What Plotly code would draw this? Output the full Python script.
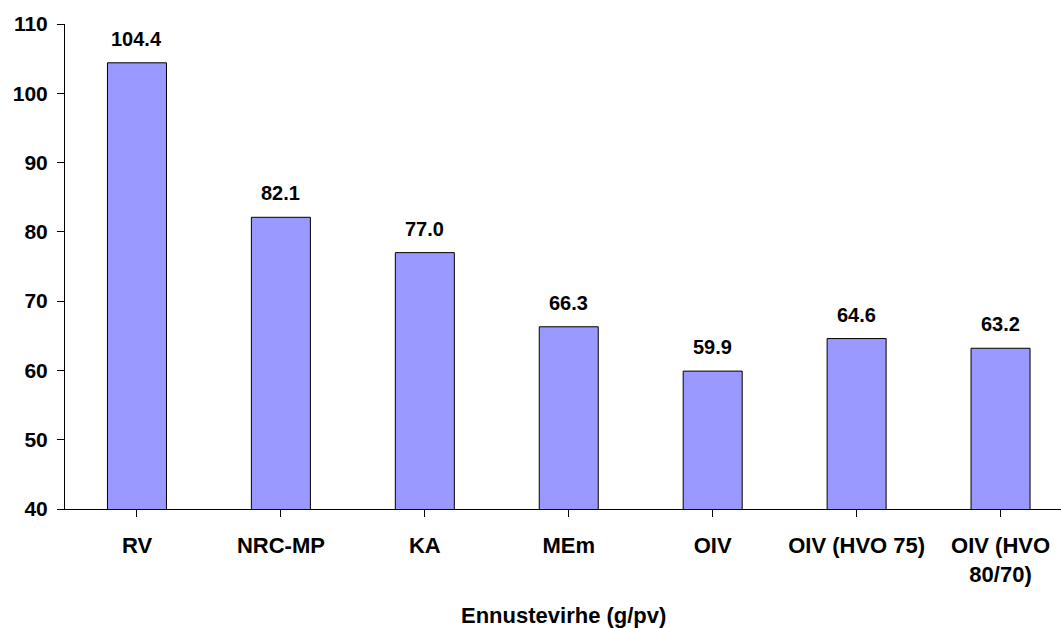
import plotly.graph_objects as go

categories = ["RV", "NRC-MP", "KA", "MEm", "OIV", "OIV (HVO 75)", "OIV (HVO<br>80/70)"]
values = [104.4, 82.1, 77.0, 66.3, 59.9, 64.6, 63.2]
y_ticks = [40, 50, 60, 70, 80, 90, 100, 110]
x_title = "Ennustevirhe (g/pv)"

FONT = "Liberation Sans, Arial, sans-serif"

fig = go.Figure()
fig.add_trace(go.Bar(
    x=list(range(len(categories))),
    y=values,
    width=0.41,
    marker=dict(color="#9999FF", line=dict(color="#000000", width=1)),
    cliponaxis=False,
))

annotations = [dict(
    x=i, y=v, xref="x", yref="y",
    text=f"<b>{v:.1f}</b>", showarrow=False,
    xanchor="center", yanchor="bottom", yshift=11,
    font=dict(family=FONT, size=20, color="#000000"),
) for i, v in enumerate(values)]
annotations.append(dict(
    text=f"<b>{x_title}</b>", xref="paper", yref="paper",
    x=0.5, y=-0.2206, xanchor="center", yanchor="middle",
    showarrow=False, font=dict(family=FONT, size=22, color="#000000"),
))

fig.update_layout(
    width=1061, height=628,
    margin=dict(l=65, r=0, t=24, b=119, autoexpand=False),
    paper_bgcolor="white", plot_bgcolor="white",
    showlegend=False,
    font=dict(family=FONT, size=20, color="#000000"),
    annotations=annotations,
)
fig.update_xaxes(
    range=[-0.5, 6.42],
    automargin=False,
    tickmode="array",
    tickvals=list(range(len(categories))),
    ticktext=[f"<b>{c}</b>" for c in categories],
    tickson="boundaries",
    ticks="outside", ticklen=7, tickcolor="#000000", tickwidth=1,
    showline=True, linecolor="#000000", linewidth=1,
    showgrid=False, zeroline=False,
    tickfont=dict(family=FONT, size=22, color="#000000"),
    ticklabelstandoff=10,
    tickangle=0,
)
fig.update_yaxes(
    range=[40, 110],
    automargin=False,
    tickmode="array", tickvals=y_ticks,
    ticktext=[f"<b>{t}</b>" for t in y_ticks],
    ticks="outside", ticklen=7, tickcolor="#000000", tickwidth=1,
    showline=True, linecolor="#000000", linewidth=1,
    showgrid=False, zeroline=False,
    tickfont=dict(family=FONT, size=21, color="#000000"),
    ticklabelstandoff=5,
)

fig.write_html(
    "out.html",
    config={"displayModeBar": False},
    post_script="document.body.style.margin='0';document.body.style.overflow='hidden';",
)
